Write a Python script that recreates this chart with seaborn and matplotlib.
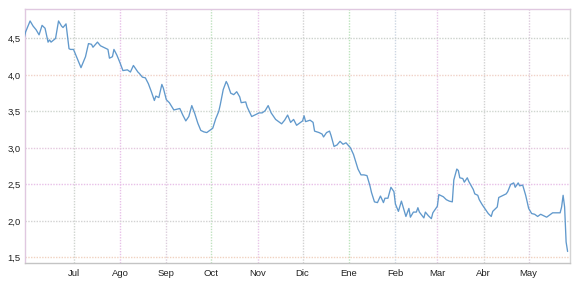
import matplotlib
matplotlib.use("Agg")
import matplotlib.pyplot as plt
import matplotlib.ticker as mticker
import numpy as np
import pandas as pd
import seaborn as sns

# ---- data ----
start_date = "2012-05-29"
day_offsets = [
    0, 1, 4, 6, 8, 10, 12, 14, 16, 17, 18, 21, 23, 25, 26, 28, 30, 31, 33, 35,
    38, 41, 43, 45, 46, 49, 51, 53, 56, 57, 59, 60, 62, 64,
    66, 69, 71, 73, 74, 76, 77, 79, 81, 83, 85, 87, 88, 90, 92, 93, 95, 97,
    100, 102, 104, 106, 108, 110, 112, 114, 116, 118, 120, 122, 124, 126, 128, 130,
    131, 133, 135, 136, 138, 140, 142, 144, 145, 148, 149, 152, 154, 157, 159, 161,
    163, 165, 168, 170, 172, 174, 176, 178, 180, 182, 184, 186, 187, 188, 191, 193,
    194, 197, 199, 200, 202, 204, 205, 207, 209, 211, 213, 215, 218,
    220, 222, 223, 225, 227, 229, 231, 232, 234, 236, 238, 240, 241, 243, 245, 247,
    248, 250, 252, 253, 255, 257, 258, 260, 262, 263, 264, 267, 268, 270, 272, 273,
    276, 277, 280, 282, 284, 286,
    287, 289, 290, 291, 293, 294, 296, 297, 300, 301, 303, 304, 306, 309, 310, 312,
    313, 315, 316, 317, 320, 322, 323, 325, 327, 328, 330, 331, 333, 335, 337, 339,
    341, 343, 345, 347, 349, 351, 353, 356, 358, 359, 360, 361, 362, 363,
]
prices = [
    4.50, 4.59, 4.74, 4.67, 4.62, 4.55, 4.68, 4.64, 4.45, 4.48, 4.45, 4.50, 4.74, 4.67, 4.65, 4.70, 4.36, 4.35, 4.35, 4.25,
    4.10, 4.25, 4.43, 4.42, 4.38, 4.45, 4.40, 4.38, 4.35, 4.23, 4.25, 4.35, 4.27, 4.17,
    4.06, 4.07, 4.04, 4.13, 4.10, 4.04, 4.02, 3.97, 3.96, 3.88, 3.77, 3.65, 3.71, 3.69, 3.87, 3.82, 3.66, 3.62,
    3.52, 3.53, 3.54, 3.45, 3.37, 3.43, 3.58, 3.47, 3.34, 3.24, 3.22, 3.21, 3.24, 3.27, 3.40, 3.50,
    3.59, 3.80, 3.91, 3.87, 3.75, 3.73, 3.77, 3.70, 3.62, 3.63, 3.56, 3.43, 3.45, 3.48, 3.48, 3.51,
    3.58, 3.48, 3.39, 3.36, 3.33, 3.38, 3.45, 3.35, 3.39, 3.31, 3.34, 3.37, 3.44, 3.36, 3.38, 3.35,
    3.23, 3.21, 3.19, 3.15, 3.21, 3.23, 3.17, 3.02, 3.04, 3.09, 3.05, 3.07, 3.00,
    2.91, 2.78, 2.71, 2.63, 2.63, 2.62, 2.48, 2.39, 2.26, 2.25, 2.34, 2.25, 2.31, 2.31, 2.46, 2.40,
    2.23, 2.13, 2.27, 2.20, 2.06, 2.17, 2.05, 2.12, 2.12, 2.18, 2.12, 2.04, 2.12, 2.07, 2.03, 2.11,
    2.20, 2.36, 2.33, 2.29, 2.27, 2.26,
    2.56, 2.71, 2.69, 2.59, 2.58, 2.53, 2.59, 2.54, 2.43, 2.37, 2.35, 2.29, 2.22, 2.13, 2.10, 2.06,
    2.13, 2.17, 2.19, 2.32, 2.35, 2.37, 2.40, 2.50, 2.52, 2.46, 2.52, 2.48, 2.49, 2.35, 2.17, 2.10,
    2.09, 2.06, 2.09, 2.07, 2.05, 2.08, 2.11, 2.11, 2.11, 2.19, 2.35, 2.19, 1.71, 1.58,
]
month_labels = ["Jul", "Ago", "Sep", "Oct", "Nov", "Dic", "Ene", "Feb", "Mar", "Abr", "May"]
y_ticks = [1.5, 2.0, 2.5, 3.0, 3.5, 4.0, 4.5]

# ---- styling ----
sns.set_theme(style="white")
plt.rcParams["font.family"] = ["Liberation Sans", "DejaVu Sans"]

start = pd.Timestamp(start_date)
df = pd.DataFrame({
    "fecha": start + pd.to_timedelta(day_offsets, unit="D"),
    "precio": prices,
})

fig = plt.figure(figsize=(5.78, 2.87), dpi=100)
ax = fig.add_axes([25 / 578, 1 - 263 / 287, (570 - 25) / 578, (263 - 9.3) / 287])

sns.lineplot(data=df, x="fecha", y="precio", ax=ax, color="#6199cc",
             linewidth=0.95, zorder=3)

ax.set_xlim(start + pd.Timedelta(days=0.6), start + pd.Timedelta(days=364.6))
ax.set_ylim(1.422, 4.90)

month_starts = pd.date_range("2012-07-01", periods=len(month_labels), freq="MS")
ax.set_xticks(month_starts)
ax.set_xticklabels(month_labels)
ax.set_yticks(y_ticks)
ax.yaxis.set_major_formatter(mticker.FuncFormatter(lambda v, p: f"{v:.1f}".replace(".", ",")))

ax.set_xlabel("")
ax.set_ylabel("")
ax.tick_params(axis="both", length=0, labelsize=6.8, colors="#222222")
ax.tick_params(axis="x", pad=4.5)
ax.tick_params(axis="y", pad=3)

ax.grid(True, linestyle=(0, (1, 1)), linewidth=1.0)
vcolors = ["#cfd4cf", "#e8c0e8", "#dccedc", "#c0e2c0", "#e8c6e8", "#d2d2d2",
           "#bce4bc", "#ccd6e2", "#e6c6e6", "#d2d2d2", "#dccadc"]
hcolors = ["#f0d2c0", "#d2d2d2", "#e8c0e8", "#e4c8de", "#cfd6cf", "#f0d2c8", "#ccd2cc"]
for gl, c in zip(ax.get_xgridlines(), vcolors):
    gl.set_color(c)
for gl, c in zip(ax.get_ygridlines(), hcolors):
    gl.set_color(c)

for side in ["left", "top"]:
    ax.spines[side].set_linestyle((0, (1, 1)))
    ax.spines[side].set_color("#e0c8e0")
    ax.spines[side].set_linewidth(1.0)
ax.spines["bottom"].set_color("#c4c4c4")
ax.spines["bottom"].set_linewidth(1.0)
ax.spines["right"].set_color("#d4d4d4")
ax.spines["right"].set_linewidth(1.0)

fig.savefig("out.png", dpi=100)
